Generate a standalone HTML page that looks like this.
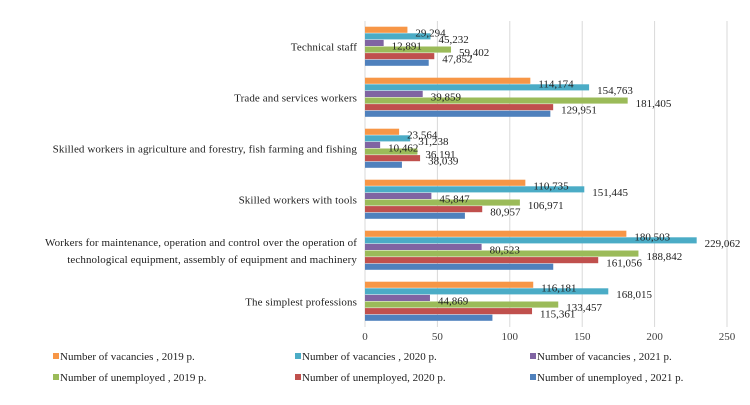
<!DOCTYPE html>
<html><head><meta charset="utf-8"><style>
body{margin:0;background:#fff;}
svg{font-family:"Liberation Serif",serif;}
</style></head><body>
<svg width="750" height="400" viewBox="0 0 750 400">
<g id="grid"></g><g id="bars"></g><g id="labels"></g><g id="cats"></g><g id="ticks"></g><g id="legend"></g>
</svg>
<script>
const categories=["Technical staff","Trade and services workers","Skilled workers in agriculture and forestry, fish farming and fishing","Skilled workers with tools","Workers for maintenance, operation and control over the operation of|technological equipment, assembly of equipment and machinery","The simplest professions"];
const seriesNames=["Number of vacancies , 2019 р.","Number of vacancies , 2020 р.","Number of vacancies , 2021 р.","Number of unemployed , 2019 р.","Number of unemployed, 2020 р.","Number of unemployed , 2021 р."];
const vac2019=[29.294,114.174,23.564,110.735,180.503,116.181];
const vac2020=[45.232,154.763,31.238,151.445,229.062,168.015];
const vac2021=[12.891,39.859,10.462,45.847,80.523,44.869];
const unemp2019=[59.402,181.405,36.191,106.971,188.842,133.457];
const unemp2020=[47.852,129.951,38.039,80.957,161.056,115.361];
const unemp2021=[44,128,25.5,69,130,88];
const showLabel=[true,true,true,true,true,false];
const tickValues=[0,50,100,150,200,250];
const colors=["#f79646","#4bacc6","#8064a2","#9bbb59","#c0504d","#4f81bd"];
const series=[vac2019,vac2020,vac2021,unemp2019,unemp2020,unemp2021];
const NS="http://www.w3.org/2000/svg";
const X0=365,X1=727,Y0=21,BAND=51,BH=6.6;
const xs=v=>X0+(v/250)*(X1-X0);
function mk(t,a,p){const e=document.createElementNS(NS,t);for(const k in a)e.setAttribute(k,a[k]);document.getElementById(p).appendChild(e);return e;}
tickValues.forEach(t=>{
 const g=mk("line",{x1:xs(t),x2:xs(t),y1:Y0,y2:Y0+BAND*6,stroke:"#d9d9d9","stroke-width":1},"grid");
 
 
 const l=mk("text",{x:xs(t),y:340,"text-anchor":"middle","font-size":11,fill:"#404040"},"ticks");
 l.textContent=t;
 
 
});
categories.forEach((c,i)=>{
 const cy=Y0+BAND*i+BAND/2;
 const top=cy-BH*3;
 series.forEach((s,j)=>{
  const y=top+j*BH;
  const r=mk("rect",{x:X0,y:y,width:xs(s[i])-X0,height:BH-0.5,fill:colors[j]},"bars");
  
  
  if(showLabel[j]){
   const t=mk("text",{x:xs(s[i])+8,y:y+BH+3,"font-size":11,fill:"#222"},"labels");
   t.textContent=s[i].toFixed(3).replace('.',',');
   
   
  }
 });
 const lines=c.split("|");
 lines.forEach((ln,k)=>{
  const t=mk("text",{x:357,y:cy+4+(k-(lines.length-1)/2)*17,"text-anchor":"end","font-size":11,"letter-spacing":"0.1",fill:"#222"},"cats");
  t.textContent=ln;
  
  
 });
});
const lx=[53,295,530],ly=[359,380];
seriesNames.forEach((n,j)=>{
 const x=lx[j%3],y=ly[Math.floor(j/3)];
 const m=mk("rect",{x:x,y:y-6,width:6,height:6,fill:colors[j]},"legend");
 
 
 const t=mk("text",{x:x+7,y:y+1,"font-size":11,fill:"#222"},"legend");
 t.textContent=n;
 
 
});
</script>
</body></html>
